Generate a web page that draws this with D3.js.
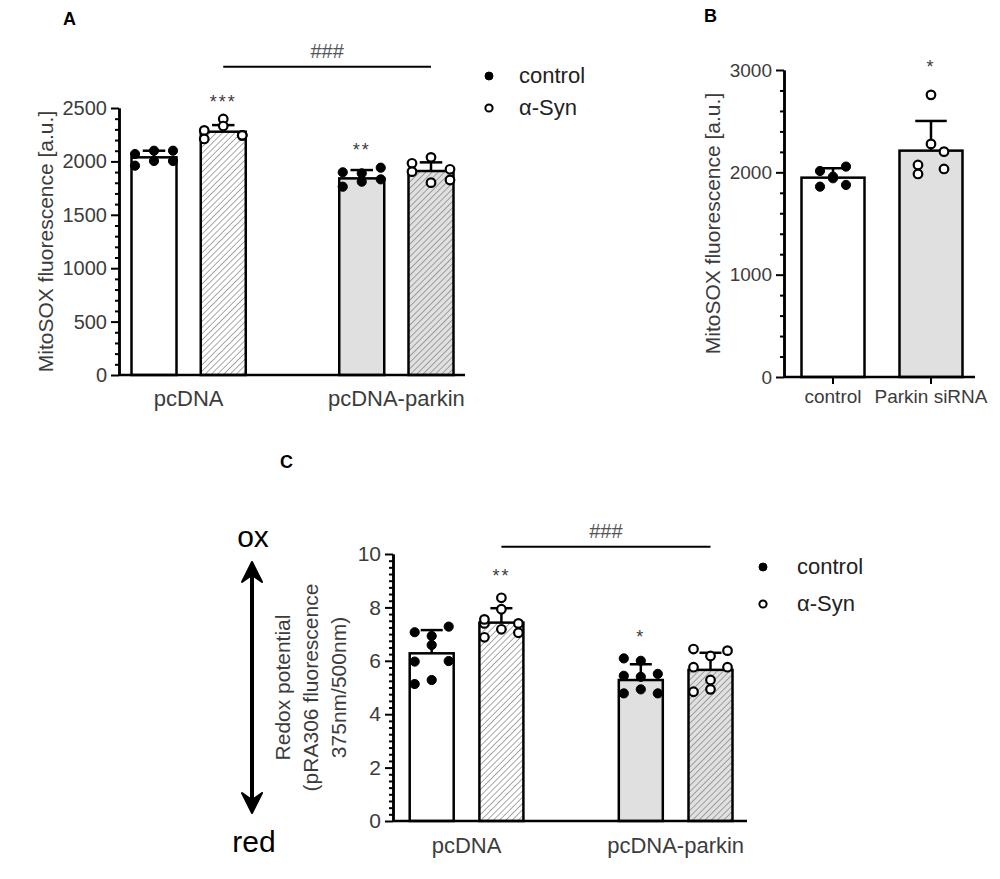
<!DOCTYPE html>
<html>
<head>
<meta charset="utf-8">
<script src="https://cdn.jsdelivr.net/npm/d3@7"></script>
<style>
  body { margin: 0; background: #fff; }
  svg { display: block; }
  text { font-family: "Liberation Sans", Arial, sans-serif; }
</style>
</head>
<body>
<svg id="fig" width="1000" height="879"></svg>
<script>
// ---- data ----
const seriesLabels = ["control", "α-Syn"];

// A: MitoSOX fluorescence
const aGroups = ["pcDNA", "pcDNA-parkin"];
const aTicks = [0, 500, 1000, 1500, 2000, 2500];
const aControlMean = [2038, 1841];
const aControlSD = [62, 78];
const aSynMean = [2278, 1910];
const aSynSD = [62, 81];
const aControlPoints = [
    [2069, 2100, 2100, 1960, 2004, 2004],
    [1898, 1888, 1941, 1763, 1810, 1832]
];
const aSynPoints = [
    [2290, 2397, 2244, 2210, 2331, 2244],
    [1982, 2038, 1926, 1904, 1801, 1826]
];
const aControlStars = ["", "**"];
const aSynStars = ["***", ""];

// B: MitoSOX after parkin knockdown
const bCategories = ["control", "Parkin siRNA"];
const bTicks = [0, 1000, 2000, 3000];
const bMean = [1948, 2212];
const bSD = [92, 290];
const bPoints = [
    [2013, 1942, 2056, 1860, 1958, 1877],
    [2072, 2757, 2033, 1984, 2278, 2202]
];
const bStars = ["", "*"];

// C: redox potential
const cGroups = ["pcDNA", "pcDNA-parkin"];
const cTicks = [0, 2, 4, 6, 8, 10];
const cControlMean = [6.28, 5.28];
const cControlSD = [0.87, 0.59];
const cSynMean = [7.43, 5.66];
const cSynSD = [0.54, 0.64];
const cControlPoints = [
    [7.07, 6.59, 7.28, 5.97, 6.93, 5.99, 5.13, 5.28],
    [6.09, 6.00, 5.51, 5.44, 5.40, 4.78, 4.78, 4.93]
];
const cSynPoints = [
    [7.40, 8.36, 7.40, 6.88, 7.93, 7.05, 7.55, 7.18],
    [6.44, 6.18, 6.38, 5.76, 5.28, 5.76, 4.84, 4.93]
];
const cControlStars = ["", "*"];
const cSynStars = ["**", ""];

const svg = d3.select("#fig");
const TXT = "#3c3c3c";
const GRAY = "#e0e0e0";

// hatch patterns for the α-Syn bars
const defs = svg.append("defs");
function hatch(id, bg) {
    const p = defs.append("pattern").attr("id", id)
        .attr("patternUnits", "userSpaceOnUse")
        .attr("width", 4.4).attr("height", 4.4)
        .attr("patternTransform", "rotate(45)");
    p.append("rect").attr("width", 4.4).attr("height", 4.4).attr("fill", bg);
    p.append("line").attr("x1", 0).attr("y1", 0).attr("x2", 0).attr("y2", 4.4)
        .attr("stroke", "#7a7a7a").attr("stroke-width", 1.3);
}
hatch("hatchWhite", "#fff");
hatch("hatchGray", GRAY);

function groupedBars(groups, cMean, cSD, cPts, cStars, sMean, sSD, sPts, sStars) {
    const out = [];
    groups.forEach((name, gi) => {
        out.push({ slot: gi * 3, mean: cMean[gi], sd: cSD[gi], pts: cPts[gi], open: false,
                   star: cStars[gi], fill: gi === 0 ? "#fff" : GRAY });
        out.push({ slot: gi * 3 + 1, mean: sMean[gi], sd: sSD[gi], pts: sPts[gi], open: true,
                   star: sStars[gi], fill: gi === 0 ? "url(#hatchWhite)" : "url(#hatchGray)" });
    });
    return out;
}

function drawPanel(p) {
    const g = svg.append("g");
    const y = d3.scaleLinear().domain([0, d3.max(p.ticks)]).range(p.yRange);
    const x = d3.scaleLinear().domain(p.slotDomain).range(p.xRange);

    // bars
    p.bars.forEach(b => {
        const cx = x(b.slot);
        g.append("rect")
            .attr("x", cx - p.barW / 2).attr("y", y(b.mean))
            .attr("width", p.barW).attr("height", y(0) - y(b.mean))
            .attr("fill", b.fill).attr("stroke", "#000").attr("stroke-width", 2.5);
        // error bar (upper SD)
        const top = y(b.mean + b.sd);
        const cap = p.barW * 0.25;
        g.append("line").attr("x1", cx).attr("x2", cx).attr("y1", y(b.mean)).attr("y2", top)
            .attr("stroke", "#000").attr("stroke-width", 2.5);
        g.append("line").attr("x1", cx - cap).attr("x2", cx + cap).attr("y1", top).attr("y2", top)
            .attr("stroke", "#000").attr("stroke-width", 2.5);
        // individual points
        g.selectAll(null).data(b.pts).enter().append("circle")
            .attr("cx", (d, i) => cx + ((i % 3) - 1) * p.jitter)
            .attr("cy", d => y(d))
            .attr("r", b.open ? 4.3 : 4.6)
            .attr("fill", b.open ? "#fff" : "#000")
            .attr("stroke", "#000").attr("stroke-width", b.open ? 2.2 : 1);
        if (b.star) {
            const hi = Math.min(y(d3.max(b.pts)) - 4.5, top);
            g.append("text").attr("x", cx).attr("y", hi - p.starGap + 10)
                .attr("text-anchor", "middle").attr("font-size", 18)
                .attr("letter-spacing", 2).attr("fill", TXT).text(b.star);
        }
    });

    // y axis
    const minors = d3.range(0, d3.max(p.ticks) + p.minor / 2, p.minor)
        .filter(v => !p.ticks.includes(+v.toFixed(4)));
    const yMinor = g.append("g").attr("transform", `translate(${p.axX},0)`)
        .call(d3.axisLeft(y).tickValues(minors).tickSize(4).tickSizeOuter(0).tickFormat(""));
    const yMajor = g.append("g").attr("transform", `translate(${p.axX},0)`)
        .call(d3.axisLeft(y).tickValues(p.ticks).tickSize(8).tickSizeOuter(0).tickPadding(4)
            .tickFormat(d => String(d)));
    [yMinor, yMajor].forEach(a => {
        a.select(".domain").attr("stroke-width", 2.5);
        a.selectAll(".tick line").attr("stroke-width", 2);
    });
    yMajor.selectAll(".tick text").attr("font-size", p.tickFont).attr("fill", TXT);

    // x axis baseline
    g.append("line").attr("x1", p.axX).attr("x2", p.xEnd).attr("y1", y(0)).attr("y2", y(0))
        .attr("stroke", "#000").attr("stroke-width", 2.5);

    // category labels
    p.xLabels.forEach(l => {
        const cx = d3.mean(l.slots, s => x(s));
        if (p.catTicks) {
            g.append("line").attr("x1", cx).attr("x2", cx).attr("y1", y(0)).attr("y2", y(0) + 7)
                .attr("stroke", "#000").attr("stroke-width", 2);
        }
        g.append("text").attr("x", cx).attr("y", p.xLabelY).attr("text-anchor", "middle")
            .attr("font-size", p.xFont).attr("fill", TXT).text(l.text);
    });

    // y title (one or more lines)
    const cy = (p.yRange[0] + p.yRange[1]) / 2;
    p.yTitle.forEach((t, i) => {
        const lx = p.yTitleX[i] + 7;
        g.append("text").attr("transform", `translate(${lx},${cy}) rotate(-90)`)
            .attr("text-anchor", "middle").attr("font-size", 21).attr("fill", TXT).text(t);
    });

    // comparison bar with hashes
    if (p.compare) {
        const x1 = x(p.compare.from), x2 = x(p.compare.to);
        g.append("line").attr("x1", x1).attr("x2", x2).attr("y1", p.compare.y).attr("y2", p.compare.y)
            .attr("stroke", "#000").attr("stroke-width", 2);
        g.append("text").attr("x", (x1 + x2) / 2).attr("y", p.compare.y - 8.5)
            .attr("text-anchor", "middle").attr("font-size", 20).attr("fill", "#555")
            .text(p.compare.text);
    }

    // legend
    if (p.legend) {
        seriesLabels.forEach((s, i) => {
            const ly = p.legend.y + i * p.legend.dy;
            g.append("circle").attr("cx", p.legend.x).attr("cy", ly).attr("r", i ? 3.6 : 4)
                .attr("fill", i ? "#fff" : "#000").attr("stroke", "#000").attr("stroke-width", i ? 2 : 1);
            g.append("text").attr("x", p.legend.x + p.legend.gap).attr("y", ly + 7)
                .attr("font-size", 22).attr("fill", "#222").text(s);
        });
    }
}

// panel A
drawPanel({
    ticks: aTicks, minor: 100, yRange: [375, 108], axX: 119,
    slotDomain: [0, 4], xRange: [154, 431], barW: 45, xEnd: 465, jitter: 19, starGap: 17,
    bars: groupedBars(aGroups, aControlMean, aControlSD, aControlPoints, aControlStars,
                      aSynMean, aSynSD, aSynPoints, aSynStars),
    tickFont: 20, xFont: 22, xLabelY: 406,
    xLabels: aGroups.map((t, gi) => ({ text: t, slots: [gi * 3, gi * 3 + 1] })),
    yTitle: ["MitoSOX fluorescence [a.u.]"], yTitleX: [46],
    compare: { from: 1, to: 4, y: 66.7, text: "###" },
    legend: { x: 489, y: 76, dy: 32, gap: 30 }
});

// panel B
drawPanel({
    ticks: bTicks, minor: 200, yRange: [377, 70], axX: 784,
    slotDomain: [0, 1], xRange: [833, 931], barW: 63, xEnd: 975, jitter: 13, starGap: 27,
    bars: bCategories.map((c, i) => ({ slot: i, mean: bMean[i], sd: bSD[i], pts: bPoints[i],
        open: i === 1, star: bStars[i], fill: i === 0 ? "#fff" : GRAY })),
    tickFont: 19, xFont: 19, xLabelY: 403, catTicks: true,
    xLabels: bCategories.map((t, i) => ({ text: t, slots: [i] })),
    yTitle: ["MitoSOX fluorescence [a.u.]"], yTitleX: [713]
});

// panel C
drawPanel({
    ticks: cTicks, minor: 0.25, yRange: [821, 554], axX: 393,
    slotDomain: [0, 4], xRange: [431.7, 710.5], barW: 44, xEnd: 747, jitter: 17, starGap: 21,
    bars: groupedBars(cGroups, cControlMean, cControlSD, cControlPoints, cControlStars,
                      cSynMean, cSynSD, cSynPoints, cSynStars),
    tickFont: 21, xFont: 22, xLabelY: 853,
    xLabels: cGroups.map((t, gi) => ({ text: t, slots: [gi * 3, gi * 3 + 1] })),
    yTitle: ["Redox potential", "(pRA306 fluorescence", "375nm/500nm)"], yTitleX: [283, 311, 339],
    compare: { from: 1, to: 4, y: 546.7, text: "###" },
    legend: { x: 763, y: 567, dy: 37, gap: 34 }
});

// panel letters
[["A", 63, 25], ["B", 704, 22], ["C", 280, 468]].forEach(([t, lx, ly]) => {
    svg.append("text").attr("x", lx).attr("y", ly).attr("font-size", 18)
        .attr("font-weight", "bold").attr("fill", "#000").text(t);
});

// ox / red arrow beside panel C
const arrow = svg.append("g");
const ax = 252, aTop = 562, aBot = 813;
arrow.append("line").attr("x1", ax).attr("x2", ax).attr("y1", aTop + 8).attr("y2", aBot - 8)
    .attr("stroke", "#000").attr("stroke-width", 4);
arrow.append("path")
    .attr("d", `M${ax},${aTop} L${ax + 10},${aTop + 20} L${ax},${aTop + 13} L${ax - 10},${aTop + 20} Z`)
    .attr("fill", "#000").attr("stroke", "#000").attr("stroke-width", 2).attr("stroke-linejoin", "round");
arrow.append("path")
    .attr("d", `M${ax},${aBot} L${ax + 10},${aBot - 20} L${ax},${aBot - 13} L${ax - 10},${aBot - 20} Z`)
    .attr("fill", "#000").attr("stroke", "#000").attr("stroke-width", 2).attr("stroke-linejoin", "round");
arrow.append("text").attr("x", ax + 1).attr("y", 547).attr("text-anchor", "middle")
    .attr("font-size", 30).attr("fill", "#000").text("ox");
arrow.append("text").attr("x", ax + 2).attr("y", 852).attr("text-anchor", "middle")
    .attr("font-size", 30).attr("fill", "#000").text("red");
</script>
</body>
</html>
